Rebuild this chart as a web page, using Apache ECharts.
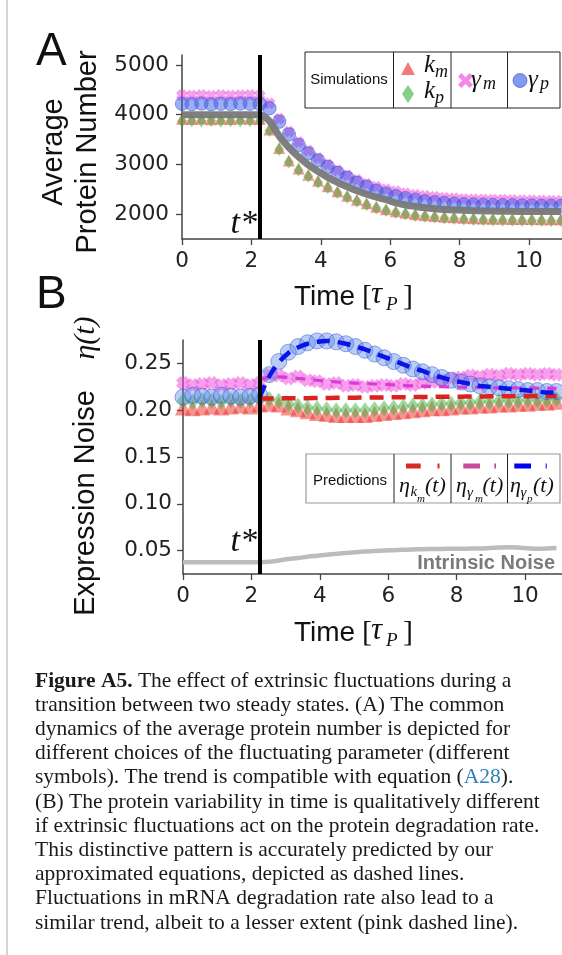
<!DOCTYPE html>
<html>
<head>
<meta charset="utf-8">
<script src="https://cdn.jsdelivr.net/npm/echarts@6/dist/echarts.min.js"></script>
<style>
html, body { margin: 0; padding: 0; background: #fff; }
#chart-container { width: 562px; height: 955px; }
</style>
</head>
<body>
<div id="chart-container"></div>
<script>
// time points of the simulations (units of tau_P)
var times = [0, 0.28, 0.56, 0.84, 1.12, 1.4, 1.68, 1.96, 2.24, 2.52, 2.8, 3.08, 3.36, 3.64, 3.92, 4.2, 4.48, 4.76, 5.04, 5.32,
  5.6, 5.88, 6.16, 6.44, 6.72, 7, 7.28, 7.56, 7.84, 8.12, 8.4, 8.68, 8.96, 9.24, 9.52, 9.8, 10.08, 10.36, 10.64, 10.92];
var tStar = 2.25;

// panel A : average protein number
var avgKm = [3920, 3915, 3925, 3910, 3920, 3915, 3925, 3920, 3915, 3700, 3330, 3080, 2920, 2790, 2670, 2560, 2460, 2370, 2290,
  2220, 2150, 2100, 2060, 2030, 2000, 1980, 1960, 1945, 1935, 1925, 1915, 1910, 1905, 1905, 1900, 1900, 1900, 1895, 1895, 1895];
var avgKp = [3870, 3880, 3875, 3885, 3870, 3880, 3875, 3880, 3870, 3680, 3300, 3050, 2890, 2760, 2640, 2530, 2430, 2340, 2260,
  2190, 2125, 2075, 2035, 2005, 1975, 1955, 1935, 1920, 1910, 1900, 1890, 1885, 1880, 1878, 1875, 1872, 1870, 1870, 1868, 1868];
var avgGm = [4390, 4385, 4395, 4380, 4395, 4385, 4390, 4395, 4385, 4230, 3920, 3660, 3450, 3280, 3130, 3000, 2880, 2780, 2690,
  2610, 2550, 2500, 2460, 2420, 2390, 2370, 2350, 2330, 2320, 2305, 2300, 2295, 2290, 2290, 2285, 2280, 2280, 2275, 2270, 2270];
var avgGp = [4220, 4215, 4225, 4210, 4220, 4215, 4225, 4220, 4215, 4130, 3860, 3600, 3390, 3220, 3080, 2950, 2830, 2730, 2630,
  2550, 2470, 2410, 2360, 2320, 2290, 2260, 2240, 2225, 2210, 2200, 2195, 2190, 2185, 2180, 2180, 2175, 2175, 2170, 2170, 2165];
var avgTheory = [4000, 4000, 4000, 4000, 4000, 4000, 4000, 4000, 4000, 3870, 3570, 3340, 3150, 2990, 2860, 2740, 2640, 2550, 2470,
  2400, 2340, 2290, 2225, 2185, 2155, 2130, 2110, 2095, 2085, 2078, 2070, 2065, 2061, 2058, 2056, 2055, 2054, 2053, 2052, 2052];

// panel B : expression noise
var noiseKm = [0.203, 0.202, 0.203, 0.204, 0.203, 0.204, 0.205, 0.204, 0.206, 0.207, 0.206, 0.203, 0.201, 0.199, 0.197, 0.196, 0.195, 0.195, 0.195,
  0.195, 0.196, 0.197, 0.198, 0.199, 0.200, 0.201, 0.202, 0.202, 0.203, 0.204, 0.204, 0.205, 0.205, 0.206, 0.206, 0.207, 0.207, 0.208, 0.208, 0.209];
var noiseKp = [0.210, 0.209, 0.211, 0.210, 0.209, 0.211, 0.210, 0.211, 0.212, 0.212, 0.210, 0.207, 0.205, 0.203, 0.202, 0.201, 0.200, 0.200, 0.200,
  0.200, 0.201, 0.202, 0.203, 0.204, 0.205, 0.205, 0.206, 0.207, 0.207, 0.208, 0.208, 0.209, 0.209, 0.210, 0.210, 0.210, 0.211, 0.211, 0.211, 0.212];
var noiseGm = [0.229, 0.227, 0.228, 0.229, 0.227, 0.228, 0.229, 0.227, 0.229, 0.238, 0.237, 0.234, 0.236, 0.232, 0.231, 0.228, 0.229, 0.226, 0.227,
  0.225, 0.226, 0.227, 0.226, 0.228, 0.227, 0.229, 0.230, 0.232, 0.234, 0.235, 0.237, 0.236, 0.238, 0.237, 0.239, 0.238, 0.239, 0.238, 0.239, 0.238];
var noiseGp = [0.214, 0.216, 0.215, 0.214, 0.216, 0.215, 0.214, 0.215, 0.216, 0.238, 0.252, 0.262, 0.268, 0.272, 0.274, 0.274, 0.273, 0.271, 0.268,
  0.264, 0.260, 0.256, 0.252, 0.248, 0.244, 0.241, 0.238, 0.235, 0.232, 0.230, 0.228, 0.226, 0.225, 0.224, 0.223, 0.222, 0.221, 0.221, 0.220, 0.220];
var predKm = [null, null, null, null, null, null, null, null, 0.2125, 0.2125, 0.2126, 0.2127, 0.2128, 0.2129, 0.213, 0.2131, 0.2132, 0.2133, 0.2134,
  0.2135, 0.2136, 0.2137, 0.2138, 0.2139, 0.214, 0.2141, 0.2142, 0.2143, 0.2144, 0.2145, 0.2146, 0.2147, 0.2148, 0.2149, 0.215, 0.215, 0.2151, 0.2151, 0.2152, 0.2152];
var predGm = [null, null, null, null, null, null, null, null, 0.233, 0.235, 0.2355, 0.235, 0.234, 0.233, 0.232, 0.231, 0.2302, 0.2295, 0.229,
  0.2285, 0.228, 0.2275, 0.227, 0.2265, 0.226, 0.2257, 0.2254, 0.2251, 0.2248, 0.2246, 0.2244, 0.2242, 0.224, 0.2239, 0.2238, 0.2237, 0.2236, 0.2235, 0.2235, 0.2234];
var predGp = [null, null, null, null, null, null, null, null, 0.214, 0.236, 0.251, 0.261, 0.267, 0.271, 0.273, 0.274, 0.273, 0.271, 0.268,
  0.265, 0.261, 0.257, 0.253, 0.249, 0.245, 0.242, 0.238, 0.235, 0.232, 0.230, 0.228, 0.226, 0.225, 0.224, 0.223, 0.222, 0.221, 0.220, 0.219, 0.219];
var intrinsic = [0.0375, 0.0375, 0.0375, 0.0375, 0.0375, 0.0375, 0.0375, 0.0375, 0.0375, 0.038, 0.0395, 0.041, 0.042, 0.0435, 0.0445, 0.0455, 0.0465, 0.0475, 0.0483,
  0.049, 0.0495, 0.050, 0.0505, 0.051, 0.0513, 0.0515, 0.0517, 0.0518, 0.052, 0.052, 0.0522, 0.0523, 0.0527, 0.0532, 0.0536, 0.0532, 0.0525, 0.052, 0.0522, 0.0528];

var xTicks = [0, 2, 4, 6, 8, 10];
var yTicksA = [2000, 3000, 4000, 5000];
var yTicksB = [0.05, 0.10, 0.15, 0.20, 0.25];

var captionLines = [
  '{b|Figure A5.} The effect of extrinsic fluctuations during a',
  'transition between two steady states. (A) The common',
  'dynamics of the average protein number is depicted for',
  'different choices of the fluctuating parameter (different',
  'symbols). The trend is compatible with equation ({l|A28}).',
  '(B) The protein variability in time is qualitatively different',
  'if extrinsic fluctuations act on the protein degradation rate.',
  'This distinctive pattern is accurately predicted by our',
  'approximated equations, depicted as dashed lines.',
  'Fluctuations in mRNA degradation rate also lead to a',
  'similar trend, albeit to a lesser extent (pink dashed line).'
];

var SANS = 'Liberation Sans';
var SERIF = 'Liberation Serif';
var cRed = 'rgba(235,40,35,0.62)';
var cGreen = 'rgba(55,175,55,0.6)';
var cPink = 'rgba(240,70,220,0.65)';
var cBlue = 'rgba(50,85,228,0.6)';
var cBlueB = 'rgba(85,130,235,0.5)';
var cBlueEdge = 'rgba(40,75,210,0.6)';
var xPath = 'path://M3.2,0L5,1.8L6.8,0L10,3.2L8.2,5L10,6.8L6.8,10L5,8.2L3.2,10L0,6.8L1.8,5L0,3.2Z';
var CAP = 21.5;

function pairs(arr) {
  var out = [];
  for (var i = 0; i < times.length; i++) {
    if (arr[i] !== null) out.push([times[i], arr[i]]);
  }
  return out;
}

function xAxisCfg(grid, max) {
  return {
    type: 'value', gridIndex: grid, min: 0, max: max,
    splitLine: { show: false },
    axisLine: { lineStyle: { color: '#444', width: 1.5 } },
    axisTick: { length: 6, customValues: xTicks, lineStyle: { color: '#444', width: 1.3 } },
    axisLabel: { customValues: xTicks, fontFamily: 'DejaVu Sans', fontSize: 21.5, color: '#222', margin: 11 }
  };
}

function yAxisCfg(grid, min, max, ticks, margin, fmt) {
  return {
    type: 'value', gridIndex: grid, min: min, max: max,
    splitLine: { show: false },
    axisLine: { show: true, lineStyle: { color: '#444', width: 1.5 } },
    axisTick: { show: true, length: 6, customValues: ticks, lineStyle: { color: '#444', width: 1.3 } },
    axisLabel: { customValues: ticks, fontFamily: 'DejaVu Sans', fontSize: 21.5, color: '#222', margin: margin, formatter: fmt }
  };
}

function scatter(ax, data, symbol, size, color, extra) {
  return {
    type: 'scatter', xAxisIndex: ax, yAxisIndex: ax, data: pairs(data),
    symbol: symbol, symbolSize: size, itemStyle: Object.assign({ color: color }, extra || {}),
    silent: true, z: 2
  };
}

function line(ax, data, color, width, dash, z) {
  return {
    type: 'line', xAxisIndex: ax, yAxisIndex: ax, data: pairs(data), showSymbol: false, smooth: 0.35,
    lineStyle: { color: color, width: width, type: dash || 'solid', cap: 'butt' }, silent: true, z: z || 3
  };
}

function starLine() {
  return {
    symbol: 'none', silent: true, label: { show: false },
    lineStyle: { color: '#000', width: 4, type: 'solid' },
    data: [{ xAxis: tStar }]
  };
}

function gText(x, y, text, size, family, extra, rot) {
  return {
    type: 'text', x: x, y: y, z: 100, silent: true, rotation: rot || 0,
    style: Object.assign({ text: text, fontSize: size, fontFamily: family, fill: '#111', align: 'left', verticalAlign: 'middle' }, extra || {})
  };
}

function gLine(x1, y1, x2, y2, color, w, dash) {
  return { type: 'line', z: 100, silent: true, shape: { x1: x1, y1: y1, x2: x2, y2: y2 }, style: { stroke: color, lineWidth: w, lineDash: dash || null } };
}

var it = { fontStyle: 'italic' };
var up = Math.PI / 2;

// chunky "x" marker for the legend, centred on (cx, cy)
function xPoly(cx, cy, r) {
  var a = r * 0.45, pts = [[-r, -r + a], [-r + a, -r], [0, -a], [r - a, -r], [r, -r + a], [a, 0], [r, r - a], [r - a, r], [0, a], [-r + a, r], [-r, r - a], [-a, 0]];
  return { type: 'polygon', z: 100, silent: true, shape: { points: pts.map(function (p) { return [cx + p[0], cy + p[1]]; }) }, style: { fill: cPink } };
}

var graphics = [
  gLine(7, 0, 7, 955, '#d4d4d4', 2),
  gText(36, 52, 'A', 46, SANS),
  gText(36, 295, 'B', 46, SANS),
  // y titles
  gText(54, 152, 'Average', 29, SANS, { align: 'center' }, up),
  gText(88, 152, 'Protein Number', 29, SANS, { align: 'center' }, up),
  gText(86, 503, 'Expression Noise', 29, SANS, { align: 'center' }, up),
  gText(86, 338, '\u03b7(t)', 30, SERIF, { align: 'center', fontStyle: 'italic' }, up),
  // x titles
  gText(294, 297, 'Time', 28, SANS),
  gText(362, 297, '[', 30, SERIF),
  gText(371, 295, '\u03c4', 31, SERIF, it),
  gText(386, 305, 'P', 19, SERIF, it),
  gText(403, 297, ']', 30, SERIF),
  gText(294, 633, 'Time', 28, SANS),
  gText(362, 633, '[', 30, SERIF),
  gText(371, 631, '\u03c4', 31, SERIF, it),
  gText(386, 641, 'P', 19, SERIF, it),
  gText(403, 633, ']', 30, SERIF),
  // t* labels
  gText(257, 224, 't*', 34, SERIF, { align: 'right', fontStyle: 'italic' }),
  gText(257, 542, 't*', 34, SERIF, { align: 'right', fontStyle: 'italic' }),
  gText(555, 563, 'Intrinsic Noise', 20, SANS, { align: 'right', fontWeight: 'bold', fill: '#7a7a7a' }),

  // legend A
  { type: 'rect', z: 99, silent: true, shape: { x: 305, y: 52, width: 255, height: 56 }, style: { fill: '#fff', stroke: '#222', lineWidth: 1 } },
  gLine(393.5, 52, 393.5, 108, '#222', 1),
  gLine(451, 52, 451, 108, '#222', 1),
  gLine(507.5, 52, 507.5, 108, '#222', 1),
  gText(349, 80, 'Simulations', 15, SANS, { align: 'center' }),
  { type: 'polygon', z: 100, silent: true, shape: { points: [[401, 75], [415, 75], [408, 62]] }, style: { fill: cRed } },
  { type: 'polygon', z: 100, silent: true, shape: { points: [[408, 85], [414, 94], [408, 103], [402, 94]] }, style: { fill: cGreen } },
  xPoly(465.5, 80.5, 7.5),
  { type: 'circle', z: 100, silent: true, shape: { cx: 520, cy: 80.5, r: 7 }, style: { fill: cBlue, stroke: cBlueEdge, lineWidth: 1 } },
  gText(424, 65, 'k', 25, SERIF, it),
  gText(435, 72, 'm', 18, SERIF, it),
  gText(424, 91, 'k', 25, SERIF, it),
  gText(435, 98, 'p', 18, SERIF, it),
  gText(471, 80, '\u03b3', 25, SERIF, it),
  gText(483, 84, 'm', 18, SERIF, it),
  gText(528, 80, '\u03b3', 25, SERIF, it),
  gText(540, 84, 'p', 18, SERIF, it),

  // legend B
  { type: 'rect', z: 99, silent: true, shape: { x: 306, y: 454, width: 254, height: 49 }, style: { fill: '#fff', stroke: '#999', lineWidth: 1.2 } },
  gLine(394, 454, 394, 503, '#222', 1),
  gLine(451, 454, 451, 503, '#222', 1),
  gLine(507.5, 454, 507.5, 503, '#222', 1),
  gText(350, 481, 'Predictions', 15, SANS, { align: 'center' }),
  gLine(406, 466, 439.5, 466, '#d42a20', 5, [14.7, 16.8]),
  gLine(463.3, 466, 496, 466, '#c64a9e', 5, [16.7, 14.3]),
  gLine(514.3, 466, 546.7, 466, '#0000f0', 5, [16.7, 14.7]),
  gText(399, 486, '\u03b7', 22, SERIF, it),
  gText(410.5, 492, 'k', 15, SERIF, it),
  gText(417, 499, 'm', 11, SERIF, it),
  gText(425, 486, '(t)', 22, SERIF, it),
  gText(456, 486, '\u03b7', 22, SERIF, it),
  gText(467, 493, '\u03b3', 15, SERIF, it),
  gText(475, 499, 'm', 11, SERIF, it),
  gText(482.5, 486, '(t)', 22, SERIF, it),
  gText(510, 486, '\u03b7', 22, SERIF, it),
  gText(520.5, 493, '\u03b3', 15, SERIF, it),
  gText(527, 499, 'p', 11, SERIF, it),
  gText(533, 486, '(t)', 22, SERIF, it)
];

var captionRich = {
  b: { fontFamily: SERIF, fontSize: CAP, fontWeight: 'bold', fill: '#1a1a1a' },
  l: { fontFamily: SERIF, fontSize: CAP, fill: '#2f80b8' }
};
captionLines.forEach(function (s, i) {
  graphics.push(gText(35, 681 + i * 24.2, s, CAP, SERIF, { fill: '#1a1a1a', rich: captionRich }));
});

var dom = document.getElementById('chart-container');
var myChart = echarts.init(dom, null, { renderer: 'canvas' });

var option = {
  animation: false,
  backgroundColor: '#fff',
  grid: [
    { left: 182, top: 55, width: 380, height: 184 },
    { left: 183, top: 340, width: 379, height: 234 }
  ],
  xAxis: [xAxisCfg(0, 10.95), xAxisCfg(1, 11.08)],
  yAxis: [
    yAxisCfg(0, 1500, 5200, yTicksA, 13, function (v) { return String(v); }),
    yAxisCfg(1, 0.025, 0.275, yTicksB, 11, function (v) { return v.toFixed(2); })
  ],
  series: [
    scatter(0, avgKm, 'triangle', [12, 12], cRed),
    scatter(0, avgKp, 'diamond', [10, 13], cGreen),
    scatter(0, avgGm, xPath, 12, cPink),
    scatter(0, avgGp, 'circle', 13.5, cBlue, { borderColor: cBlueEdge, borderWidth: 1 }),
    Object.assign(line(0, avgTheory, 'rgba(120,120,120,0.95)', 7), { markLine: starLine() }),

    scatter(1, noiseKm, 'triangle', [16, 16], cRed),
    scatter(1, noiseKp, 'diamond', [12, 16], cGreen),
    scatter(1, noiseGm, xPath, 14, cPink),
    scatter(1, noiseGp, 'circle', 16, cBlueB, { borderColor: cBlueEdge, borderWidth: 1 }),
    Object.assign(line(1, intrinsic, '#bcbcbc', 4.5), { markLine: starLine() }),
    line(1, predKm, '#dd2020', 4.5, [14, 8], 4),
    line(1, predGm, '#d83cd4', 3.2, [10, 8], 4),
    line(1, predGp, '#0a14e6', 4.5, [13, 8], 4)
  ],
  graphic: graphics
};

myChart.setOption(option);
window.addEventListener('resize', myChart.resize);
</script>
</body>
</html>
